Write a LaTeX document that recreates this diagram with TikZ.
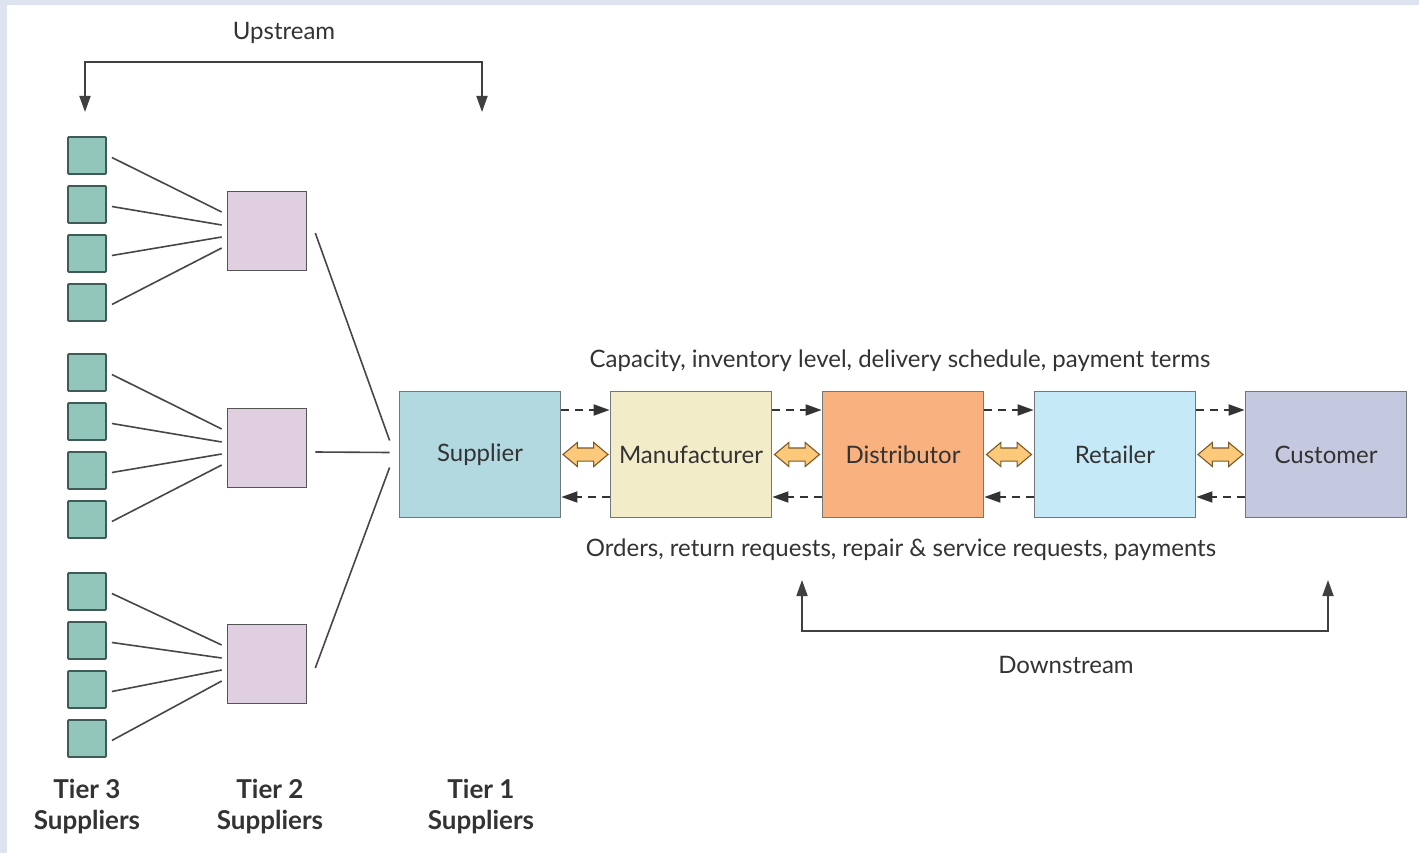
\documentclass[tikz,border=0pt]{standalone}
\usepackage{fontspec}
\setmainfont{Lato}
\usetikzlibrary{arrows.meta,shapes.arrows,calc}
\definecolor{frame}{HTML}{DEE4EF}
\definecolor{txt}{HTML}{333333}
\definecolor{tthree}{HTML}{93C6BB}
\definecolor{tthreeb}{HTML}{3F5B57}
\definecolor{ttwo}{HTML}{E0CFE0}
\definecolor{ttwob}{HTML}{555555}
\definecolor{cSup}{HTML}{B2D9E0}
\definecolor{cMan}{HTML}{F3ECC8}
\definecolor{cDis}{HTML}{F9B27F}
\definecolor{cRet}{HTML}{C6E9F7}
\definecolor{cCus}{HTML}{C5C9DF}
\definecolor{boxb}{HTML}{707878}
\definecolor{dafill}{HTML}{FCC87A}
\definecolor{dadraw}{HTML}{7A5A28}
\begin{document}
\begin{tikzpicture}[x=1pt,y=-1pt,
  t3/.style={draw=tthreeb,line width=1.8pt,fill=tthree,minimum width=38pt,minimum height=37pt,inner sep=0pt,rounded corners=1pt},
  t2/.style={draw=ttwob,line width=1.6pt,fill=ttwo,minimum width=79pt,minimum height=79pt,inner sep=0pt},
  chain/.style={draw=boxb,line width=1.8pt,minimum width=161pt,minimum height=126pt,inner sep=0pt,font=\fontsize{24}{28}\selectfont,text=txt},
  link/.style={draw=black!72,line width=1.6pt},
  dflow/.style={draw=black!80,line width=1.8pt,dash pattern=on 8pt off 6pt,-{Triangle[length=16pt,width=11pt]}},
  dbl/.style={double arrow,draw=dadraw,line width=1.1pt,fill=dafill,minimum height=45pt,inner xsep=0pt,inner ysep=6pt,double arrow head extend=5.5pt,double arrow tip angle=80},
  brk/.style={draw=black!75,line width=1.8pt,{Triangle[length=16pt,width=11pt]}-{Triangle[length=16pt,width=11pt]}},
  lbl/.style={text=txt,font=\fontsize{24}{28}\selectfont,inner sep=0pt},
  tier/.style={text=txt,font=\bfseries\fontsize{26}{31}\selectfont,align=center,inner sep=0pt}]
\useasboundingbox (0,0) rectangle (1419,853);
\fill[white] (0,0) rectangle (1419,853);
\fill[frame] (0,0) rectangle (1419,5);
\fill[frame] (0,0) rectangle (7,853);

% Tier 3 squares
\foreach \g/\y in {1/155.5,2/372.5,3/591.5}{
  \foreach \k in {0,1,2,3}{
    \node[t3] (a\g\k) at (87,\y+49*\k) {};
  }
}
% Tier 2 squares
\node[t2] (b1) at (267,231) {};
\node[t2] (b2) at (267,448) {};
\node[t2] (b3) at (267,664) {};

% Tier3 -> Tier2 lines
\foreach \g in {1,2,3}{
  \draw[link] ([xshift=5pt,yshift=-2pt]a\g0.east) -- ([xshift=-5pt,yshift=19pt]b\g.west);
  \draw[link] ([xshift=5pt,yshift=-2pt]a\g1.east) -- ([xshift=-5pt,yshift=6pt]b\g.west);
  \draw[link] ([xshift=5pt,yshift=-2pt]a\g2.east) -- ([xshift=-5pt,yshift=-6pt]b\g.west);
  \draw[link] ([xshift=5pt,yshift=-2pt]a\g3.east) -- ([xshift=-5pt,yshift=-17pt]b\g.west);
}

% Chain boxes
\node[chain,fill=cSup] (sup) at (480,454.5) {Supplier};
\node[chain,fill=cMan] (man) at (691,454.5) {Manufacturer};
\node[chain,fill=cDis] (dis) at (903,454.5) {Distributor};
\node[chain,fill=cRet] (ret) at (1115,454.5) {Retailer};
\node[chain,fill=cCus] (cus) at (1326,454.5) {Customer};

% Tier2 -> Supplier
\draw[link] ([xshift=8pt,yshift=-2pt]b1.east) -- ([xshift=-9pt,yshift=14pt]sup.west);
\draw[link] ([xshift=8pt,yshift=-4pt]b2.east) -- ([xshift=-9pt,yshift=2pt]sup.west);
\draw[link] ([xshift=8pt,yshift=-4pt]b3.east) -- ([xshift=-9pt,yshift=-13pt]sup.west);

% Flows between chain boxes
\foreach \l/\r [count=\i] in {sup/man,man/dis,dis/ret,ret/cus}{
  \draw[dflow] ([yshift=44.5pt]\l.east) -- ([yshift=44.5pt]\r.west);
  \draw[dflow] ([yshift=-42.5pt]\r.west) -- ([yshift=-42.5pt]\l.east);
  \node[dbl] (d\i) at ($(\l.east)!0.5!(\r.west)$) {};
}

% Labels
\node[lbl] (cap) at (900,361) {Capacity, inventory level, delivery schedule, payment terms};
\node[lbl] (ord) at (901,550) {Orders, return requests, repair \& service requests, payments};

% Upstream bracket
\coordinate (u1) at (85,112);
\coordinate (u2) at (482,112);
\draw[brk] (u1) -- (85,62) -- (482,62) -- (u2);
\node[lbl] (up) at (284,33) {Upstream};

% Downstream bracket
\coordinate (w1) at (802,580);
\coordinate (w2) at (1328,580);
\draw[brk] (w1) -- (802,631) -- (1328,631) -- (w2);
\node[lbl] (down) at (1066,665) {Downstream};

% Tier labels
\node[tier] (l3) at (87,807) {Tier 3\\Suppliers};
\node[tier] (l2) at (270,807) {Tier 2\\Suppliers};
\node[tier] (l1) at (481,807) {Tier 1\\Suppliers};
\end{tikzpicture}
\end{document}
